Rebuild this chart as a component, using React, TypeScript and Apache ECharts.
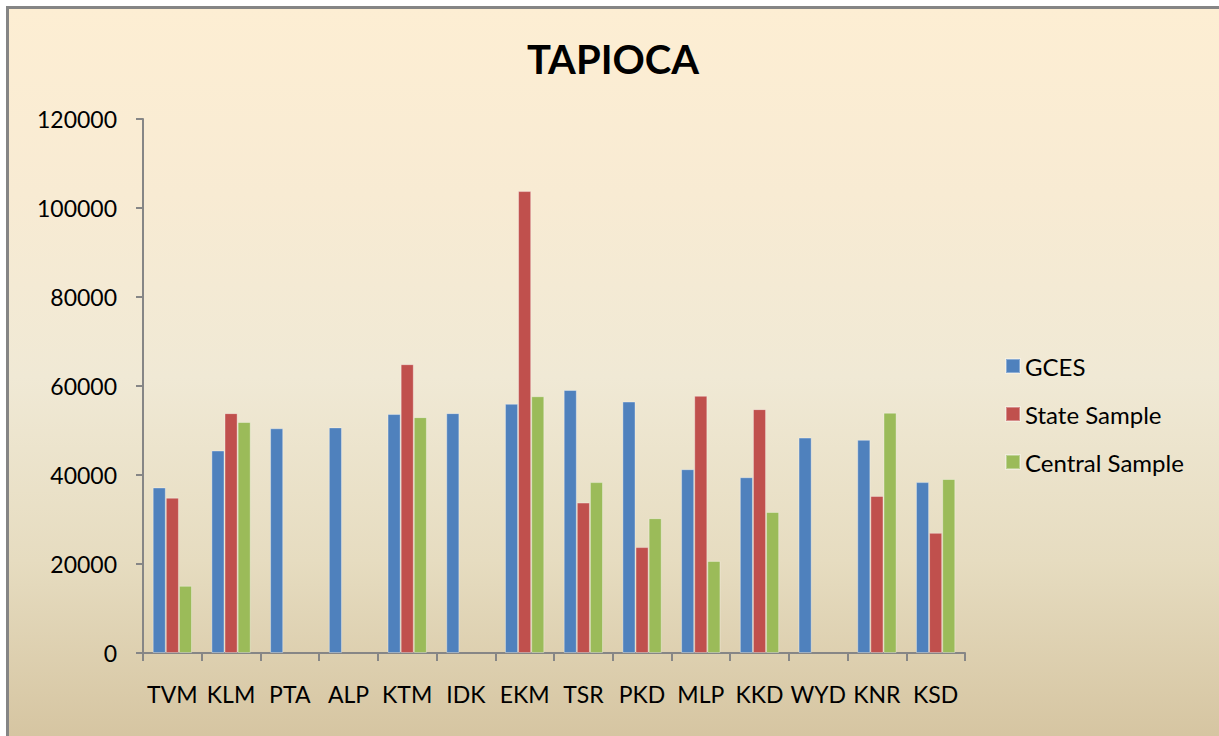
import React, { useEffect, useRef } from "react";
import * as echarts from "echarts";

const categories = ["TVM", "KLM", "PTA", "ALP", "KTM", "IDK", "EKM", "TSR", "PKD", "MLP", "KKD", "WYD", "KNR", "KSD"];
const gces = [37200, 45500, 50500, 50700, 53700, 53900, 56000, 59100, 56500, 41300, 39500, 48400, 47900, 38400];
const stateSample = [34900, 53900, null, null, 64900, null, 103800, 33800, 23800, 57800, 54800, null, 35300, 27000];
const centralSample = [15100, 51900, null, null, 53000, null, 57700, 38400, 30300, 20700, 31700, null, 54000, 39100];
const yTicks = { min: 0, max: 120000, interval: 20000 };

const FONT = "Lato, 'Open Sans', sans-serif";

export default function App() {
  const ref = useRef<HTMLDivElement>(null);
  useEffect(() => {
    if (!ref.current) return;
    const chart = echarts.init(ref.current, undefined, { renderer: "svg" });
    chart.setOption({
      animation: false,
      backgroundColor: "transparent",
      textStyle: { fontFamily: FONT, color: "#000" },
      title: {
        text: "TAPIOCA",
        left: 612,
        textAlign: "center",
        top: 34,
        textStyle: { fontSize: 40, fontWeight: "bold", color: "#000", fontFamily: FONT },
      },
      legend: {
        orient: "vertical",
        left: 1000,
        top: 349,
        icon: "rect",
        itemWidth: 14,
        itemHeight: 14,
        itemGap: 24,
        textStyle: { fontSize: 24, lineHeight: 24, color: "#000", fontFamily: FONT },
        data: ["GCES", "State Sample", "Central Sample"],
      },
      grid: { left: 143, right: 254, top: 119, bottom: 83, containLabel: false },
      xAxis: {
        type: "category",
        data: categories,
        axisLine: { lineStyle: { color: "#868686", width: 2 } },
        axisTick: { show: true, length: 8, lineStyle: { color: "#868686", width: 2 } },
        axisLabel: { fontSize: 23, color: "#000", margin: 29, fontFamily: FONT, interval: 0 },
      },
      yAxis: {
        type: "value",
        min: yTicks.min,
        max: yTicks.max,
        interval: yTicks.interval,
        splitLine: { show: false },
        axisLine: { show: true, lineStyle: { color: "#868686", width: 2 } },
        axisTick: { show: true, length: 7, lineStyle: { color: "#868686", width: 2 } },
        axisLabel: { fontSize: 23, color: "#000", margin: 26, fontFamily: FONT, formatter: (v: number) => String(v) },
      },
      series: [
        { name: "GCES", type: "bar", data: gces, barGap: "0%", barCategoryGap: "33%", itemStyle: { color: "#4F81BD", borderColor: "rgba(255,255,255,0.35)", borderWidth: 1 } },
        { name: "State Sample", type: "bar", data: stateSample, barGap: "0%", barCategoryGap: "33%", itemStyle: { color: "#C0504D", borderColor: "rgba(255,255,255,0.35)", borderWidth: 1 } },
        { name: "Central Sample", type: "bar", data: centralSample, barGap: "0%", barCategoryGap: "33%", itemStyle: { color: "#9BBB59", borderColor: "rgba(255,255,255,0.35)", borderWidth: 1 } },
      ],
      graphic: [],
    });
    chart.setOption({ title: { left: 608 } });
    return () => chart.dispose();
  }, []);

  return (
    <div style={{ position: "fixed", left: 0, top: 0, width: 1219, height: 736, background: "#ffffff", overflow: "hidden" }}>
      <div
        style={{
          position: "absolute",
          left: 6,
          top: 6,
          width: 1219,
          height: 736,
          borderLeft: "3px solid #858585",
          borderTop: "3px solid #858585",
          background: "linear-gradient(to bottom, #FDEED3 0%, #F8EBD3 25%, #F0E9D5 50%, #E6DCC0 75%, #D5C4A0 100%)",
        }}
      />
      <div ref={ref} style={{ position: "absolute", left: 0, top: 0, width: 1219, height: 736 }} />
    </div>
  );
}
